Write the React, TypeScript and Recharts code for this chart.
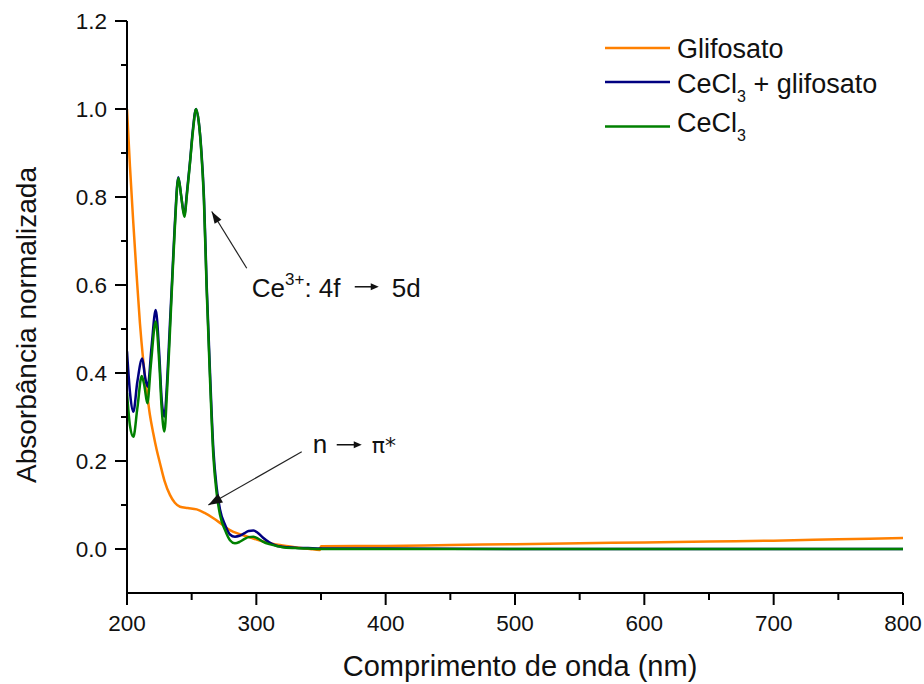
import { LineChart, Line, XAxis, YAxis, ReferenceLine, Legend } from "recharts"

// Glifosato
const glifosatoNm = [200, 202.3, 204.9, 207.5, 210, 212.5, 215.2, 217.7, 220.3, 222.9, 225.5, 229, 233.2, 237, 241, 247, 253.9, 260, 266.8, 273, 279.6, 288, 297.7, 308, 318.3, 330, 341.5, 349, 350, 400, 450, 500, 550, 600, 650, 700, 750, 800]
const glifosatoAbs = [1.0, 0.869, 0.74, 0.62, 0.513, 0.43, 0.361, 0.305, 0.263, 0.226, 0.195, 0.155, 0.123, 0.105, 0.096, 0.093, 0.09, 0.082, 0.07, 0.057, 0.043, 0.033, 0.024, 0.015, 0.009, 0.004, 0.0, -0.002, 0.006, 0.007, 0.009, 0.011, 0.013, 0.015, 0.017, 0.019, 0.022, 0.025]

// CeCl3 + glifosato
const mixNm = [200, 202.5, 204.9, 208, 211.8, 214, 216, 219, 222.2, 225, 226.8, 228.9, 231, 233, 235, 237, 239.7, 242, 244.3, 246.5, 248.7, 251, 253.4, 255.5, 257.5, 259.5, 261.6, 264.2, 266.8, 269.3, 271.9, 275.8, 279.6, 283.5, 287, 291, 294, 297.7, 301, 305, 310, 315, 320, 330, 340, 350, 400, 500, 600, 700, 800]
const mixAbs = [0.449, 0.35, 0.312, 0.38, 0.433, 0.39, 0.369, 0.46, 0.543, 0.44, 0.34, 0.301, 0.38, 0.5, 0.62, 0.74, 0.845, 0.8, 0.76, 0.815, 0.88, 0.955, 1.0, 0.97, 0.905, 0.8, 0.6, 0.4, 0.225, 0.14, 0.09, 0.055, 0.033, 0.028, 0.03, 0.036, 0.041, 0.042, 0.037, 0.026, 0.015, 0.008, 0.005, 0.003, 0.002, 0.001, 0.001, 0.0, 0.0, 0.0, 0.0]

// CeCl3
const cecl3Nm = [200, 202.3, 204.9, 208, 211.4, 213.5, 215.7, 218.5, 222.2, 225, 226.8, 228.9, 231, 233, 235, 237, 239.7, 242, 244.3, 246.5, 248.7, 251, 253.4, 255.5, 257.5, 259.5, 261.6, 264.2, 266.8, 269.3, 271.9, 275.8, 279.6, 283.5, 287, 291, 294, 297.7, 301, 305, 310, 315.7, 320, 330, 340, 350, 400, 500, 600, 700, 800]
const cecl3Abs = [0.355, 0.28, 0.255, 0.32, 0.393, 0.37, 0.331, 0.42, 0.517, 0.42, 0.32, 0.267, 0.36, 0.48, 0.61, 0.73, 0.843, 0.8, 0.755, 0.81, 0.877, 0.95, 1.0, 0.97, 0.9, 0.79, 0.589, 0.384, 0.21, 0.127, 0.078, 0.043, 0.02, 0.013, 0.016, 0.023, 0.027, 0.028, 0.024, 0.017, 0.011, 0.007, 0.004, 0.002, 0.001, 0.0, 0.0, 0.0, 0.0, 0.0, 0.0]

const xTicks = [200, 250, 300, 350, 400, 450, 500, 550, 600, 650, 700, 750, 800]
const yTicks = [0, 0.1, 0.2, 0.3, 0.4, 0.5, 0.6, 0.7, 0.8, 0.9, 1.0, 1.1, 1.2]

const seriesNames = ["Glifosato", "CeCl3 + glifosato", "CeCl3"]
const seriesColors = ["#FF8000", "#000080", "#008000"]

const toPoints = (nm: number[], abs: number[]) => nm.map((x, i) => ({ nm: x, abs: abs[i] }))

const FONT = "'Liberation Sans', Arial, sans-serif"

function XTick({ x, y, payload }: any) {
  const major = payload.value % 100 === 0
  return (
    <g>
      <line x1={x} y1={y} x2={x} y2={y + (major ? 12 : 7)} stroke="#000" strokeWidth={2} />
      {major && (
        <text x={x} y={y + 38} textAnchor="middle" fontSize={22.5} fill="#111" fontFamily={FONT}>
          {payload.value}
        </text>
      )}
    </g>
  )
}

function YTick({ x, y, payload }: any) {
  const major = Math.round(payload.value * 10) % 2 === 0
  return (
    <g>
      <line x1={x} y1={y} x2={x - (major ? 12 : 6)} y2={y} stroke="#000" strokeWidth={2} />
      {major && (
        <text x={x - 20} y={y + 7.5} textAnchor="end" fontSize={22.5} fill="#111" fontFamily={FONT}>
          {payload.value.toFixed(1)}
        </text>
      )}
    </g>
  )
}

function arrowHead(x1: number, y1: number, x2: number, y2: number, len: number, half: number) {
  const dx = x2 - x1
  const dy = y2 - y1
  const d = Math.sqrt(dx * dx + dy * dy)
  const ux = dx / d
  const uy = dy / d
  const bx = x2 - ux * len
  const by = y2 - uy * len
  return `${x2},${y2} ${bx - uy * half},${by + ux * half} ${bx + uy * half},${by - ux * half}`
}

function SmallArrow({ x, y, w }: { x: number; y: number; w: number }) {
  return (
    <g>
      <line x1={x} y1={y} x2={x + w - 6} y2={y} stroke="#111" strokeWidth={1.5} />
      <polygon points={arrowHead(x, y, x + w, y, 8, 3.5)} fill="#111" />
    </g>
  )
}

function CeArrow(props: any) {
  const { x1, y1, x2, y2 } = props
  const base = y1 + 28.5
  return (
    <g>
      <line x1={x1} y1={y1} x2={x2} y2={y2} stroke="#222" strokeWidth={1.2} />
      <polygon points={arrowHead(x1, y1, x2, y2, 12, 4)} fill="#111" />
      <text x={x1 + 5} y={base} fontSize={26} fill="#111" fontFamily={FONT}>
        Ce
        <tspan fontSize={17} dy={-12}>3+</tspan>
        <tspan dy={12}>: 4f</tspan>
      </text>
      <SmallArrow x={x1 + 108} y={base - 10} w={24} />
      <text x={x1 + 145} y={base} fontSize={26} fill="#111" fontFamily={FONT}>
        5d
      </text>
    </g>
  )
}

function NArrow(props: any) {
  const { x1, y1, x2, y2 } = props
  const base = y1 + 1
  return (
    <g>
      <line x1={x1} y1={y1} x2={x2} y2={y2} stroke="#222" strokeWidth={1.2} />
      <polygon points={arrowHead(x1, y1, x2, y2, 14, 5)} fill="#111" />
      <text x={x1 + 11} y={base} fontSize={26} fill="#111" fontFamily={FONT}>
        n
      </text>
      <SmallArrow x={x1 + 35} y={base - 8} w={25} />
      <text x={x1 + 70} y={base} fontSize={22} fill="#111" fontFamily="'DejaVu Sans', sans-serif">
        π*
      </text>
    </g>
  )
}

function LegendLabel({ name }: { name: string }) {
  if (name === "CeCl3 + glifosato") {
    return (
      <>
        CeCl<tspan fontSize={16} dy={9}>3</tspan>
        <tspan dy={-9}> + glifosato</tspan>
      </>
    )
  }
  if (name === "CeCl3") {
    return (
      <>
        CeCl<tspan fontSize={16} dy={9}>3</tspan>
      </>
    )
  }
  return <>{name}</>
}

function ChartLegend() {
  const rows = [20, 54, 98.5]
  const bases = [30, 65, 104]
  return (
    <svg width={320} height={130} style={{ display: "block" }}>
      {seriesNames.map((name, i) => (
        <g key={name}>
          <line x1={5} y1={rows[i]} x2={70} y2={rows[i]} stroke={seriesColors[i]} strokeWidth={2.5} />
          <text x={77} y={bases[i]} fontSize={27} fill="#111" fontFamily={FONT}>
            <LegendLabel name={name} />
          </text>
        </g>
      ))}
    </svg>
  )
}

export default function App() {
  const seriesData = [
    toPoints(glifosatoNm, glifosatoAbs),
    toPoints(mixNm, mixAbs),
    toPoints(cecl3Nm, cecl3Abs),
  ]
  return (
    <div style={{ position: "absolute", left: 0, top: 0, width: 924, height: 684, background: "#fff", fontFamily: FONT }}>
      <LineChart width={924} height={684} margin={{ top: 21, right: 21, bottom: 0, left: 0 }}>
        <XAxis
          dataKey="nm"
          type="number"
          domain={[200, 800]}
          ticks={xTicks}
          interval={0}
          tickSize={0}
          tickMargin={0}
          tickLine={false}
          tick={<XTick />}
          height={91}
          axisLine={{ stroke: "#000", strokeWidth: 2 }}
          allowDataOverflow
          label={{
            content: () => (
              <text x={520} y={676} textAnchor="middle" fontSize={29} fill="#111" fontFamily={FONT}>
                Comprimento de onda (nm)
              </text>
            ),
          }}
        />
        <YAxis
          type="number"
          domain={[-0.1, 1.2]}
          ticks={yTicks}
          interval={0}
          tickSize={0}
          tickMargin={0}
          tickLine={false}
          tick={<YTick />}
          width={127}
          axisLine={{ stroke: "#000", strokeWidth: 2 }}
          allowDataOverflow
          label={{
            content: () => (
              <text
                x={36}
                y={325}
                textAnchor="middle"
                fontSize={28}
                fill="#111"
                fontFamily={FONT}
                transform="rotate(-90 36 325)"
              >
                Absorbância normalizada
              </text>
            ),
          }}
        />
        <Legend
          layout="vertical"
          align="center"
          verticalAlign="middle"
          wrapperStyle={{ left: 600, top: 28, width: 320 }}
          content={() => <ChartLegend />}
        />
        {seriesData.map((pts, i) => (
          <Line
            key={seriesNames[i]}
            name={seriesNames[i]}
            data={pts}
            dataKey="abs"
            type="monotone"
            stroke={seriesColors[i]}
            strokeWidth={2.5}
            dot={false}
            activeDot={false}
            isAnimationActive={false}
          />
        ))}
        <ReferenceLine
          segment={[
            { x: 292.6, y: 0.638 },
            { x: 265.5, y: 0.767 },
          ]}
          shape={(p: any) => <CeArrow {...p} />}
        />
        <ReferenceLine
          segment={[
            { x: 335.1, y: 0.221 },
            { x: 262.9, y: 0.1 },
          ]}
          shape={(p: any) => <NArrow {...p} />}
        />
      </LineChart>
    </div>
  )
}
